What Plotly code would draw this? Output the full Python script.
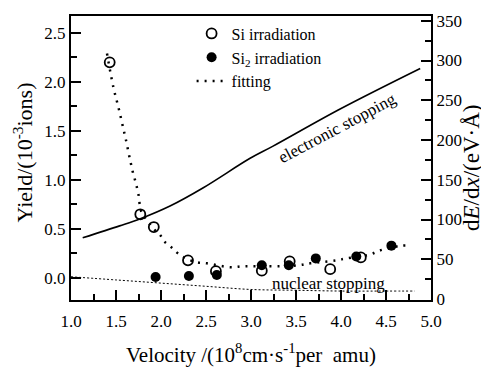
import plotly.graph_objects as go

# Data
si_x = [1.43, 1.77, 1.92, 2.30, 2.61, 3.12, 3.43, 3.88, 4.22]
si_y = [2.20, 0.65, 0.52, 0.18, 0.07, 0.075, 0.17, 0.09, 0.21]

si2_x = [1.94, 2.31, 2.62, 3.12, 3.42, 3.72, 4.17, 4.56]
si2_y = [0.01, 0.02, 0.03, 0.13, 0.13, 0.20, 0.22, 0.33]

fit_x = [1.40, 1.47, 1.53, 1.58, 1.61, 1.66, 1.69, 1.72, 1.75, 1.78, 1.86, 1.92,
         1.99, 2.04, 2.12, 2.19, 2.30, 2.40, 2.51, 2.77, 2.92, 3.10, 3.30, 3.53,
         3.66, 3.95, 4.06, 4.32, 4.43, 4.56, 4.68, 4.77]
fit_y = [2.29, 1.95, 1.73, 1.53, 1.41, 1.19, 1.07, 0.97, 0.85, 0.68, 0.57, 0.50,
         0.44, 0.37, 0.31, 0.25, 0.19, 0.16, 0.15, 0.11, 0.12, 0.12, 0.12, 0.13,
         0.15, 0.18, 0.20, 0.24, 0.28, 0.31, 0.33, 0.33]

elec_x = [1.13, 1.54, 1.77, 2.10, 2.47, 2.99, 3.24, 3.99, 4.88]
elec_y = [77, 92, 101, 117, 140, 177, 192, 239, 290]

nuc_x = [1.0, 1.5, 2.0, 2.5, 3.0, 3.5, 4.0, 4.5, 4.82]
nuc_y = [28, 24, 20, 16, 12, 11, 10, 10, 10]

FONT = "Liberation Serif"

fig = go.Figure()

fig.add_trace(go.Scatter(x=elec_x, y=elec_y, yaxis="y2", mode="lines",
                         line=dict(color="black", width=1.6, shape="spline"),
                         showlegend=False, name="electronic stopping"))
fig.add_trace(go.Scatter(x=nuc_x, y=nuc_y, yaxis="y2", mode="lines",
                         line=dict(color="black", width=1, dash="2px,2px", shape="spline"),
                         showlegend=False, name="nuclear stopping"))
fig.add_trace(go.Scatter(x=si_x, y=si_y, mode="markers", name="Si irradiation",
                         marker=dict(symbol="circle-open", size=10, color="black",
                                     line=dict(width=1.8, color="black"))))
fig.add_trace(go.Scatter(x=si2_x, y=si2_y, mode="markers", name="Si<sub>2</sub> irradiation",
                         marker=dict(symbol="circle", size=10, color="black")))
fig.add_trace(go.Scatter(x=fit_x, y=fit_y, mode="lines", name="fitting",
                         line=dict(color="black", width=2.5, dash="2px,6px", shape="spline")))

axis_common = dict(
    showgrid=False, zeroline=False, showline=True, linecolor="black", linewidth=2,
    ticks="inside", tickcolor="black", tickwidth=2, ticklen=10, automargin=False,
    tickfont=dict(family=FONT, size=17, color="black"),
)

# The page body has an 8px margin; size the figure so it fills the rest of the window.
fig.update_layout(
    template="none",
    width=481, height=359,
    margin=dict(l=63, r=58, t=8, b=67, autoexpand=False),
    paper_bgcolor="white", plot_bgcolor="white",
    font=dict(family=FONT, color="black"),
    xaxis=dict(range=[1.0, 5.0], dtick=0.5, tick0=1.0, tickformat=".1f", mirror=True,
               ticklabelstandoff=5,
               minor=dict(dtick=0.25, ticks="inside", ticklen=6, tickcolor="black", tickwidth=2),
               **axis_common),
    yaxis=dict(range=[-0.2245, 2.673], dtick=0.5, tick0=0, tickformat=".1f",
               minor=dict(dtick=0.25, ticks="inside", ticklen=6, tickcolor="black", tickwidth=2),
               **axis_common),
    yaxis2=dict(range=[-1.25, 356], dtick=50, tick0=0, overlaying="y", side="right",
                minor=dict(dtick=25, ticks="inside", ticklen=6, tickcolor="black", tickwidth=2),
                **axis_common),
    legend=dict(x=0.335, y=0.998, xanchor="left", yanchor="top",
                bgcolor="rgba(0,0,0,0)", font=dict(family=FONT, size=16, color="black"),
                itemwidth=30, tracegroupgap=0),
    annotations=[
        dict(text="electronic stopping", x=3.95, y=1.53, xref="x", yref="y",
             showarrow=False, textangle=-28, font=dict(family=FONT, size=17, color="black")),
        dict(text="nuclear stopping", x=3.86, y=-0.06, xref="x", yref="y",
             showarrow=False, font=dict(family=FONT, size=17, color="black")),
        dict(text="Yield/(10<sup>-3</sup>ions)", x=-0.133, y=0.52, xref="paper", yref="paper",
             showarrow=False, textangle=-90, xanchor="center", yanchor="middle",
             font=dict(family=FONT, size=22, color="black")),
        dict(text="d<i>E</i>/d<i>x</i>/(eV·Å)", x=1.114, y=0.465, xref="paper", yref="paper",
             showarrow=False, textangle=-90, xanchor="center", yanchor="middle",
             font=dict(family=FONT, size=23, color="black")),
        dict(text="Velocity /(10<sup>8</sup>cm·s<sup>-1</sup>per&nbsp;&nbsp;amu)", x=0.5, y=-0.19,
             xref="paper", yref="paper", showarrow=False, xanchor="center", yanchor="middle",
             font=dict(family=FONT, size=21, color="black")),
    ],
)

fig.write_html("out.html")
